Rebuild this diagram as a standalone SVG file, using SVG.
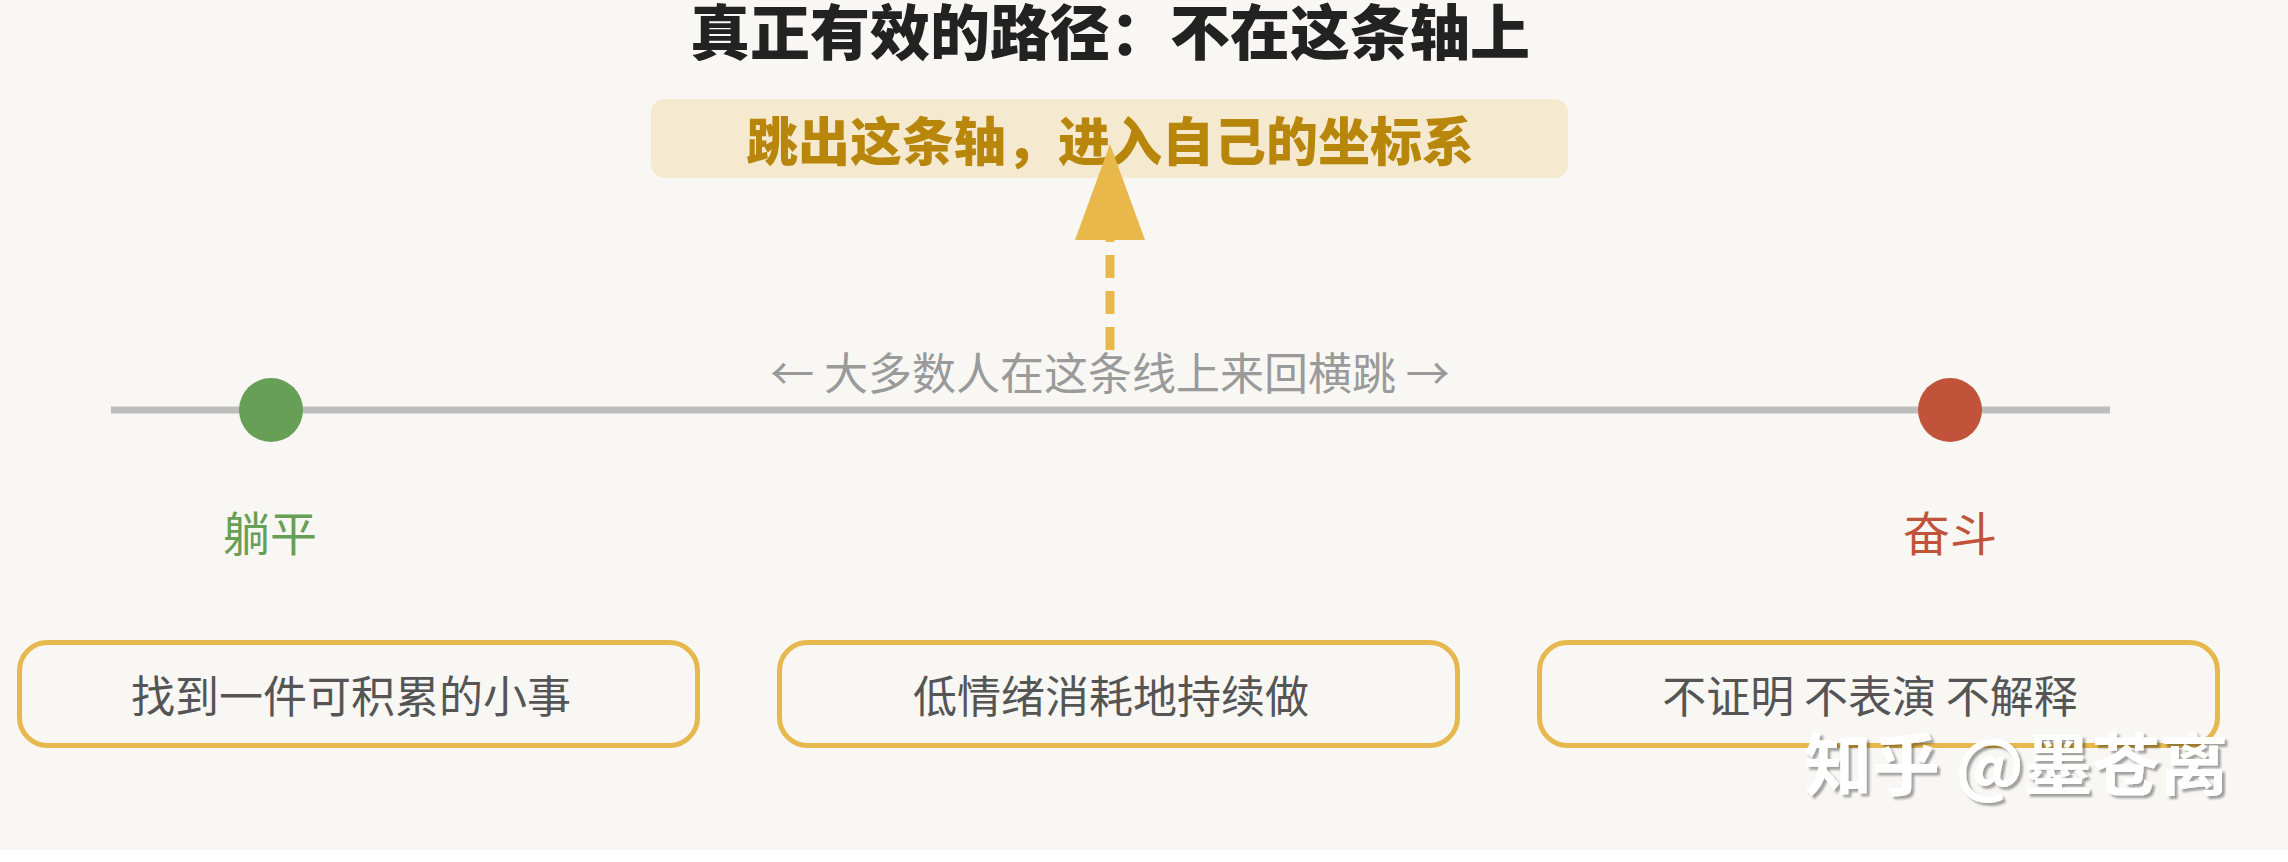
<svg xmlns="http://www.w3.org/2000/svg" width="2288" height="862" viewBox="0 0 2288 862">
<style>
.cjk{font-family:"Noto Sans CJK SC","Noto Sans",sans-serif}
.box{fill:none;stroke:#e6b84e;stroke-width:5}
.boxtxt{font-size:44px;fill:#555555;text-anchor:middle}
.lbl{font-size:47px;text-anchor:middle}
</style>
<defs>
<marker id="ah" markerUnits="userSpaceOnUse" markerWidth="96" markerHeight="70" refX="0" refY="35" viewBox="0 0 96 70" orient="auto">
<path d="M0 0 L96 35 L0 70 Z" fill="#e8b84a"/>
</marker>
<filter id="shadow" x="-10%" y="-30%" width="120%" height="160%">
<feDropShadow dx="3" dy="3" stdDeviation="1" flood-color="#000000" flood-opacity="0.35"/>
</filter>
</defs>
<rect x="0" y="0" width="2288" height="862" fill="#ffffff"/>
<rect x="0" y="0" width="2288" height="850" fill="#f8f7f4"/>
<g id="title">
<text class="cjk" x="1110" y="55" font-size="60" font-weight="900" fill="#222222" text-anchor="middle">真正有效的路径：不在这条轴上</text>
</g>
<g id="highlight">
<rect x="651" y="99" width="917" height="79" rx="14" fill="#f5ead0"/>
<text class="cjk" x="1110" y="161" font-size="52" font-weight="900" fill="#b8860b" text-anchor="middle">跳出这条轴，进入自己的坐标系</text>
</g>
<g id="axis">
<line x1="111" y1="410" x2="2110" y2="410" stroke="#bdbdbd" stroke-width="7"/>
<text class="cjk" x="1110" y="390" font-size="44" fill="#9a9a9a" text-anchor="middle">← 大多数人在这条线上来回横跳 →</text>
</g>
<g id="connectors">
<line x1="1110" y1="350" x2="1110" y2="240" stroke="#e8b84a" stroke-width="9" stroke-dasharray="23 13" marker-end="url(#ah)"/>
</g>
<g id="node-tangping">
<circle cx="271" cy="410" r="32" fill="#689f57"/>
<text class="cjk lbl" x="270" y="551" fill="#689f57">躺平</text>
</g>
<g id="node-fendou">
<circle cx="1950" cy="410" r="32" fill="#c0533a"/>
<text class="cjk lbl" x="1950" y="551" fill="#c0533a">奋斗</text>
</g>
<g id="box1">
<rect class="box" x="19.5" y="642.5" width="678" height="103" rx="28"/>
<text class="cjk boxtxt" x="351" y="713">找到一件可积累的小事</text>
</g>
<g id="box2">
<rect class="box" x="779.5" y="642.5" width="678" height="103" rx="28"/>
<text class="cjk boxtxt" x="1111" y="713">低情绪消耗地持续做</text>
</g>
<g id="box3">
<rect class="box" x="1539.5" y="642.5" width="678" height="103" rx="28"/>
<text class="cjk boxtxt" x="1870" y="713">不证明 不表演 不解释</text>
</g>
<g id="watermark">
<text class="cjk" x="2016" y="790" font-size="68" font-weight="700" fill="#ffffff" text-anchor="middle" filter="url(#shadow)">知乎 @墨苍离</text>
</g>
</svg>
